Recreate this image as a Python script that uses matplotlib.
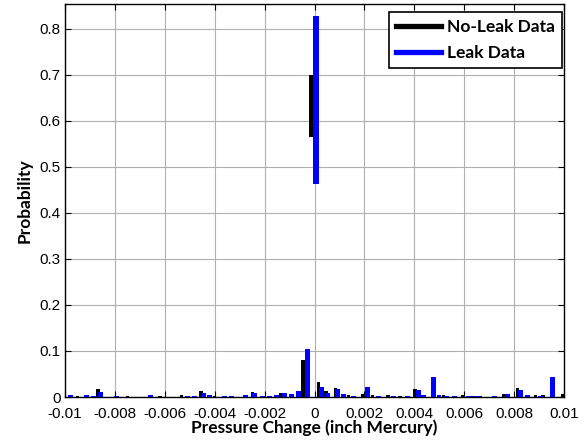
import matplotlib.pyplot as plt
import numpy as np

# No-Leak histogram bars (center, probability)
noleak_x = [-0.0095, -0.00868, -0.0075, -0.0062, -0.00533, -0.00455, -0.00401,
            -0.00248, -0.00136, -0.00096, -0.00046, 0.00016, 0.00046, 0.00084,
            0.00136, 0.00192, 0.00232, 0.00295, 0.00343, 0.00403, 0.00517,
            0.00595, 0.00631, 0.00663, 0.00758, 0.00814, 0.00886, 0.00916, 0.00994]
noleak_p = [0.003, 0.017, 0.002, 0.003, 0.004, 0.012, 0.003,
            0.010, 0.009, 0.007, 0.080, 0.033, 0.014, 0.019,
            0.004, 0.006, 0.004, 0.004, 0.003, 0.018, 0.004,
            0.005, 0.003, 0.003, 0.007, 0.019, 0.004, 0.004, 0.006]

# Leak histogram bars (center, probability)
leak_x = [-0.00978, -0.00914, -0.00884, -0.00858, -0.00794, -0.00659, -0.00511,
          -0.00479, -0.00443, -0.00419, -0.00359, -0.00331, -0.00275, -0.00240,
          -0.00208, -0.00180, -0.00152, -0.00120, -0.00092, -0.00064, -0.00030,
          0.00028, 0.00054, 0.00092, 0.00116, 0.00156, 0.00212, 0.00255,
          0.00315, 0.00371, 0.00415, 0.00437, 0.00475, 0.00499, 0.00531,
          0.00563, 0.00617, 0.00651, 0.00723, 0.00774, 0.00826, 0.00854,
          0.00906, 0.00952]
leak_p = [0.005, 0.004, 0.003, 0.010, 0.003, 0.005, 0.002,
          0.003, 0.009, 0.004, 0.003, 0.003, 0.004, 0.009,
          0.003, 0.003, 0.004, 0.008, 0.006, 0.013, 0.105,
          0.022, 0.008, 0.018, 0.006, 0.003, 0.022, 0.003,
          0.003, 0.003, 0.015, 0.005, 0.043, 0.004, 0.003,
          0.002, 0.003, 0.003, 0.003, 0.007, 0.016, 0.005,
          0.003, 0.043]

# peak segments near zero (x, low, high)
noleak_peak = (-0.00014, 0.565, 0.700)
leak_peak = (0.00006, 0.462, 0.827)

plt.rcParams['font.family'] = ['Liberation Sans', 'DejaVu Sans']

fig = plt.figure(figsize=(5.87, 4.48), dpi=100)
ax = fig.add_axes([65 / 587, 1 - 397 / 448, 499 / 587, 393 / 448])

ax.bar(noleak_x, noleak_p, width=0.00015, color='black', zorder=3)
ax.bar(leak_x, leak_p, width=0.0002, color='blue', zorder=3)
ax.bar([noleak_peak[0]], [noleak_peak[2] - noleak_peak[1]], bottom=[noleak_peak[1]],
       width=0.00015, color='black', zorder=3)
ax.bar([leak_peak[0]], [leak_peak[2] - leak_peak[1]], bottom=[leak_peak[1]],
       width=0.00024, color='blue', zorder=4)

ax.plot([], [], color='black', lw=3.8, label='No-Leak Data')
ax.plot([], [], color='blue', lw=3.8, label='Leak Data')

ax.set_xlim(-0.01, 0.01)
ax.set_ylim(0, 0.854)
xt = np.linspace(-0.01, 0.01, 11)
ax.set_xticks(xt)
ax.set_xticklabels(['-0.01', '-0.008', '-0.006', '-0.004', '-0.002', '0',
                    '0.002', '0.004', '0.006', '0.008', '0.01'])
ax.set_yticks(np.arange(0, 0.81, 0.1))
ax.set_yticklabels(['0', '0.1', '0.2', '0.3', '0.4', '0.5', '0.6', '0.7', '0.8'])
ax.tick_params(direction='in', top=True, right=True, length=4, labelsize=11,
               colors='black', pad=3)
ax.tick_params(axis='x', pad=7)
ax.grid(True, color='#b0b0b0', lw=0.8, zorder=0)
ax.set_axisbelow(True)
for s in ax.spines.values():
    s.set_linewidth(1.0)

ax.set_xlabel('Pressure Change (inch Mercury)', fontsize=12.5, fontweight='bold',
              family=['Lato', 'DejaVu Sans'], labelpad=-1)
ax.set_ylabel('Probability', fontsize=12.5, fontweight='bold',
              family=['Lato', 'DejaVu Sans'], labelpad=5)

leg = ax.legend(loc='upper right', bbox_to_anchor=(0.996, 0.979), borderaxespad=0,
                fancybox=False, edgecolor='black', framealpha=1,
                handlelength=2.6, handletextpad=0.35,
                prop={'family': ['Lato', 'DejaVu Sans'], 'weight': 'bold', 'size': 12.5},
                borderpad=0.4, labelspacing=0.55)
leg.get_frame().set_linewidth(1.2)

fig.savefig('out.png', dpi=100)
